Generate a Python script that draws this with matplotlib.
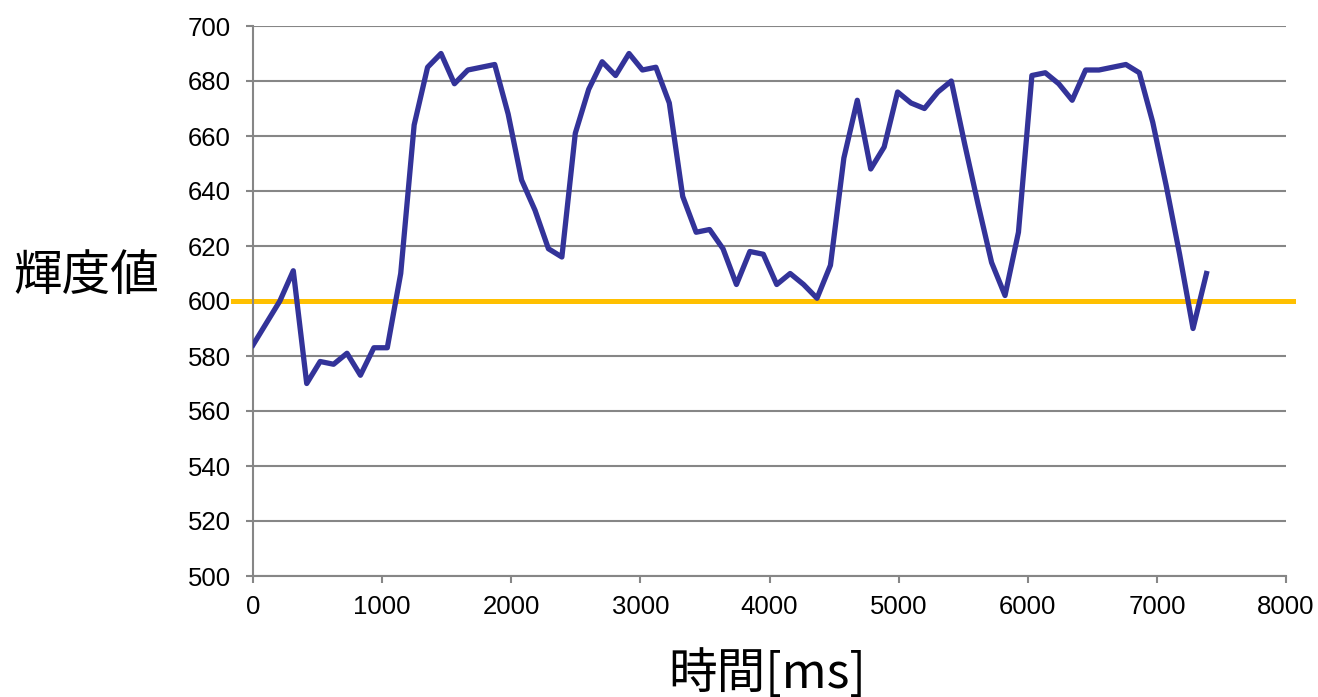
import numpy as np
import matplotlib.pyplot as plt
import matplotlib.transforms as mtransforms

plt.rcParams['font.family'] = ['Liberation Sans', 'DejaVu Sans']

# 時間 [ms] と輝度値
jikan = [0, 104, 208, 312, 416, 520, 624, 728, 832, 936,
         1040, 1144, 1248, 1352, 1456, 1560, 1664, 1768, 1872, 1976,
         2080, 2184, 2288, 2392, 2496, 2600, 2704, 2808, 2912, 3016,
         3120, 3224, 3328, 3432, 3536, 3640, 3744, 3848, 3952, 4056,
         4160, 4264, 4368, 4472, 4576, 4680, 4784, 4888, 4992, 5096,
         5200, 5304, 5408, 5512, 5616, 5720, 5824, 5928, 6032, 6136,
         6240, 6344, 6448, 6552, 6656, 6760, 6864, 6968, 7072, 7176,
         7280, 7384]
kido = [584, 592, 600, 611, 570, 578, 577, 581, 573, 583,
        583, 610, 664, 685, 690, 679, 684, 685, 686, 668,
        644, 633, 619, 616, 661, 677, 687, 682, 690, 684,
        685, 672, 638, 625, 626, 619, 606, 618, 617, 606,
        610, 606, 601, 613, 652, 673, 648, 656, 676, 672,
        670, 676, 680, 657, 635, 614, 602, 625, 682, 683,
        679, 673, 684, 684, 685, 686, 683, 665, 642, 617,
        590, 610]
shikii = 600   # しきい値

fig = plt.figure(figsize=(13.18, 6.97), dpi=100)
ax = fig.add_axes([253/1318, 1 - 576/697, 1033/1318, 550/697])

ax.plot(jikan, kido, color='#333399', lw=3.8, solid_joinstyle='round', zorder=3)

# しきい値の線 (軸の外まで少しはみ出す)
trans = mtransforms.blended_transform_factory(ax.transAxes, ax.transData)
ax.plot([-0.0194, 1.0068], [shikii, shikii], color='#FFC000', lw=3.6,
        transform=trans, clip_on=False, zorder=2)

ax.set_xlim(0, 8000)
ax.set_ylim(500, 700)
ax.set_xticks(np.arange(0, 8001, 1000))
ax.set_yticks(np.arange(500, 701, 20))
ax.yaxis.grid(True, color='#868686', lw=1.5)
ax.set_axisbelow(True)

for s in ['top', 'right']:
    ax.spines[s].set_visible(False)
for s in ['left', 'bottom']:
    ax.spines[s].set_color('#868686')
    ax.spines[s].set_linewidth(1.5)

ax.tick_params(axis='both', colors='#868686', labelcolor='black', labelsize=18.5,
               length=5, width=1.5, direction='out')
ax.tick_params(axis='y', pad=11)
ax.tick_params(axis='x', pad=9)

jp = ['Noto Sans CJK JP', 'DejaVu Sans']
fig.text(86/1318, 1 - 276/697, '輝度値', family=jp, fontsize=35,
         ha='center', va='center')
fig.text(767/1318, 1 - 674/697, '時間[ms]', family=jp, fontsize=35,
         ha='center', va='center')

plt.savefig('out.png', dpi=100)
